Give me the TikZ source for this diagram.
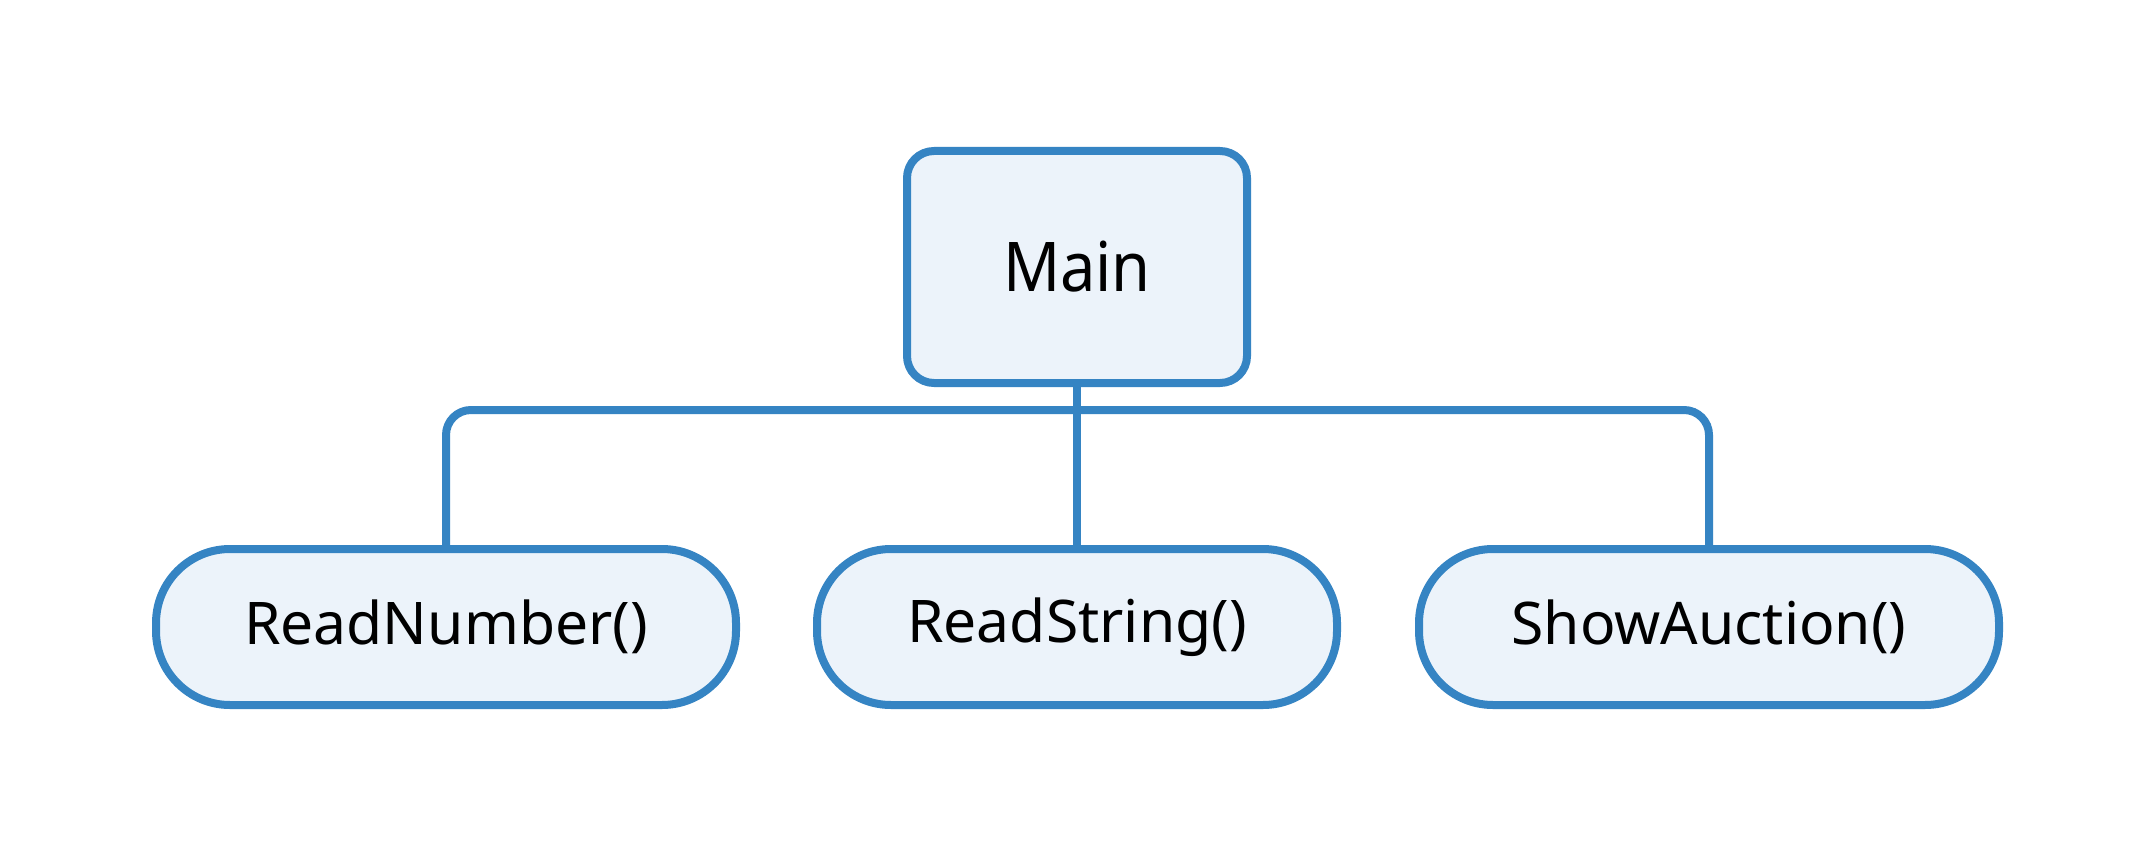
\documentclass[tikz,border=0pt]{standalone}
\usepackage{fontspec}
\setmainfont{Noto Sans}
\newfontfamily\narrowfont[FakeStretch=0.92]{Noto Sans}
\definecolor{edge}{RGB}{53,132,195}
\definecolor{boxfill}{RGB}{236,243,250}
\tikzset{
  basebox/.style={draw=edge, fill=boxfill, line width=8pt, inner sep=0pt, text=black},
  mainbox/.style={basebox, rounded corners=27pt, minimum width=340pt, minimum height=232pt, font=\narrowfont\fontsize{68.6}{80}\selectfont},
  callbox/.style={basebox, rounded corners=74pt, minimum height=156pt, font=\fontsize{58.8}{70}\selectfont},
  link/.style={draw=edge, line width=8pt}
}
\begin{document}
\begin{tikzpicture}[x=1pt,y=-1pt]
\useasboundingbox[fill=white] (0,0) rectangle (2154,861);
\node[mainbox] (main) at (1077,267) {Main};
\node[callbox, minimum width=580pt] (rn) at (446,627) {ReadNumber()};
\node[callbox, minimum width=520pt] (rs) at (1077,627) {ReadString()};
\node[callbox, minimum width=580pt] (sa) at (1709,627) {ShowAuction()};
\coordinate (bus) at (0,410);
\draw[link, rounded corners=25pt] (rn.north) |- (bus -| rs.north) -| (sa.north);
\draw[link] (main.south) -- (rs.north);
\end{tikzpicture}
\end{document}
